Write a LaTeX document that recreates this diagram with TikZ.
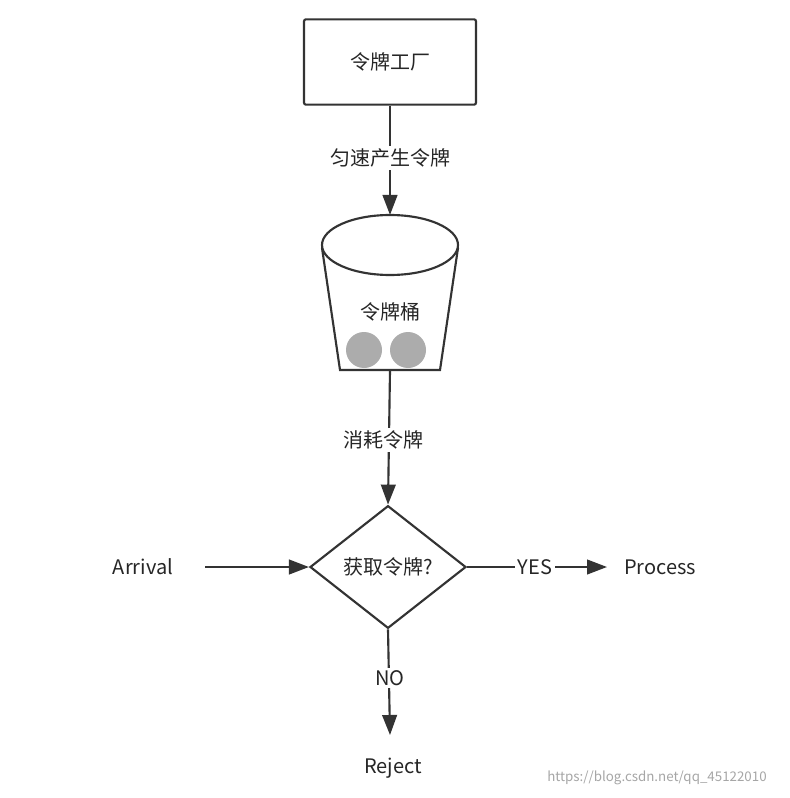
\documentclass[tikz,border=0pt]{standalone}
\usepackage{fontspec}
\setmainfont{Noto Sans CJK SC}
\usetikzlibrary{arrows.meta,shapes.geometric}
\begin{document}
\begin{tikzpicture}[x=0.75pt,y=-0.75pt,
  line/.style={draw=black!80,line width=1.6pt},
  arr/.style={line,-{Triangle[length=15pt,width=11pt]}},
  txt/.style={font=\fontsize{15}{17}\selectfont,text=black!85},
  lbl/.style={txt,fill=white,inner sep=2pt}]
\useasboundingbox[fill=white] (0,0) rectangle (789,798);
\node[line,rounded corners=1.5pt,minimum width=129pt,minimum height=64pt,txt] (f) at (390,62) {令牌工厂};
% bucket
\draw[line] (322,248) -- (340,370) -- (440,370) -- (458,248);
\draw[line,fill=white] (390,245) ellipse [x radius=68,y radius=30];
\coordinate (btop) at (390,215);
\coordinate (bbot) at (390,370);
\node[txt] (bt) at (390,312) {令牌桶};
\fill[gray!65] (364,350) circle [radius=18];
\fill[gray!65] (408,350) circle [radius=18];
\node[diamond,line,aspect=1.28,minimum width=117pt,minimum height=92pt,inner sep=0pt] (d) at (388,567) {};
\node[txt] at (d) {获取令牌?};
\draw[arr] (f.south) -- (btop);
\node[lbl] (l1) at (390,158) {匀速产生令牌};
\draw[arr] (bbot) -- (d.north);
\node[lbl] (l2) at (383,440) {消耗令牌};
\node[txt] (arv) at (143,567) {Arrival};
\coordinate (a0) at (205,567);
\draw[arr] (a0) -- (d.west);
\node[txt] (proc) at (660,567) {Process};
\coordinate (p0) at (607,567);
\draw[arr] (d.east) -- (p0);
\node[lbl] (yes) at (535,567) {YES};
\node[txt] (rej) at (393,768) {Reject};
\coordinate (r0) at (390,735);
\draw[arr] (d.south) -- (r0);
\node[lbl] (no) at (390,678) {NO};
\node[font=\fontsize{10}{12}\selectfont,text=black!35] (wm) at (657,778) {https://blog.csdn.net/qq\_45122010};
\end{tikzpicture}
\end{document}
